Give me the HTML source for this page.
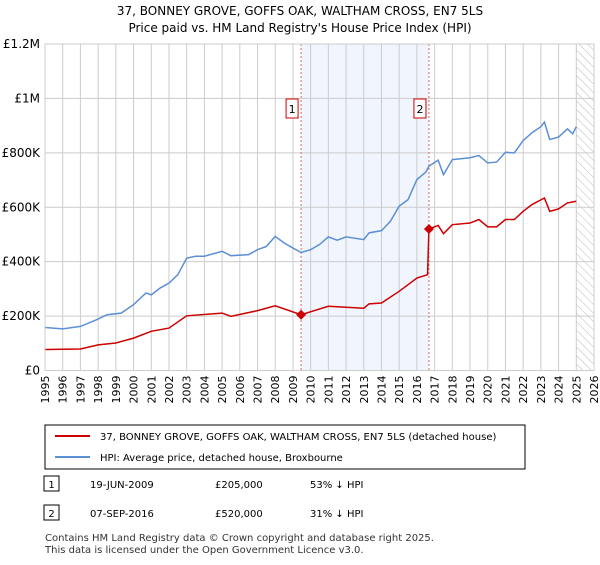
<!DOCTYPE html><html><head><meta charset="utf-8"><style>
body{margin:0;width:600px;height:560px;background:#fff;font-family:"Liberation Sans","DejaVu Sans",sans-serif;overflow:hidden}
svg text{font-family:"DejaVu Sans","Liberation Sans",sans-serif}
</style></head><body>
<svg id="c" width="600" height="560">
<text x="300" y="15" text-anchor="middle" font-size="12">37, BONNEY GROVE, GOFFS OAK, WALTHAM CROSS, EN7 5LS</text>
<text x="300" y="32" text-anchor="middle" font-size="12">Price paid vs. HM Land Registry's House Price Index (HPI)</text>
<g id="plot"></g>
<rect x="45" y="425" width="480" height="44" fill="#fff" stroke="#000" stroke-width="1"/>
<line x1="55" y1="436" x2="90" y2="436" stroke="#cc0000" stroke-width="2"/>
<text x="100" y="440" font-size="10">37, BONNEY GROVE, GOFFS OAK, WALTHAM CROSS, EN7 5LS (detached house)</text>
<line x1="55" y1="457" x2="90" y2="457" stroke="#5b8fd6" stroke-width="2"/>
<text x="100" y="461" font-size="10">HPI: Average price, detached house, Broxbourne</text>
<rect x="44" y="476" width="15" height="15" fill="#fff" stroke="#000"/>
<text x="51.5" y="488" font-size="10" text-anchor="middle">1</text>
<text x="90" y="488" font-size="10">19-JUN-2009</text>
<text x="215" y="488" font-size="10">£205,000</text>
<text x="310" y="488" font-size="10">53% ↓ HPI</text>
<rect x="44" y="505" width="15" height="15" fill="#fff" stroke="#000"/>
<text x="51.5" y="517" font-size="10" text-anchor="middle">2</text>
<text x="90" y="517" font-size="10">07-SEP-2016</text>
<text x="215" y="517" font-size="10">£520,000</text>
<text x="310" y="517" font-size="10">31% ↓ HPI</text>
<text x="45" y="541" font-size="10" fill="#333">Contains HM Land Registry data © Crown copyright and database right 2025.</text>
<text x="45" y="553" font-size="10" fill="#333">This data is licensed under the Open Government Licence v3.0.</text>
</svg>
<script>
const yTicks=[0,200000,400000,600000,800000,1000000,1200000];
const yTickLabels=["£0","£200K","£400K","£600K","£800K","£1M","£1.2M"];
const years=[1995,1996,1997,1998,1999,2000,2001,2002,2003,2004,2005,2006,2007,2008,2009,2010,2011,2012,2013,2014,2015,2016,2017,2018,2019,2020,2021,2022,2023,2024,2025,2026];
const hpiT=[1995,1996,1997,1998,1998.5,1999.3,2000,2000.7,2001,2001.5,2002,2002.5,2003,2003.5,2004,2005,2005.5,2006.5,2007,2007.5,2008,2008.5,2009,2009.46,2010,2010.5,2011,2011.5,2012,2013,2013.3,2014,2014.5,2015,2015.5,2016,2016.5,2016.68,2017.2,2017.5,2018,2019,2019.5,2020,2020.5,2021,2021.5,2022,2022.5,2023,2023.2,2023.5,2024,2024.5,2024.8,2025];
const hpiV=[158,153,162,189,205,211,242,285,278,303,321,352,413,420,420,438,422,426,444,456,493,469,450,434,444,463,491,479,491,481,506,514,548,604,628,702,729,751,773,720,775,782,790,763,766,802,800,845,874,896,913,849,858,888,870,896];
const priceT=[1995,1997,1998,1999,2000,2001,2002,2003,2005,2005.5,2007,2008,2009.46,2011,2013,2013.3,2014,2015,2016,2016.6,2016.68,2017.2,2017.5,2018,2019,2019.5,2020,2020.5,2021,2021.5,2022,2022.5,2023.2,2023.5,2024,2024.5,2025];
const priceV=[77,79,94,101,119,144,156,201,211,199,220,238,205,236,229,245,248,291,340,352,520,533,503,536,542,555,528,528,555,555,585,610,634,585,594,616,622];
const saleT=[2009.46,2016.68];
const saleV=[205,520];
const saleLabels=["1","2"];
const X0=45,X1=594,Y0=370.5,Y1=44;
const xs=t=>X0+(t-1995)/31*(X1-X0);
const ys=v=>Y0-v/1200000*(Y0-Y1);
const NS="http://www.w3.org/2000/svg";
const g=document.getElementById('plot');
function mk(tag,a){const e=document.createElementNS(NS,tag);for(const k in a)e.setAttribute(k,a[k]);g.appendChild(e);return e;}
let e=mk('rect',{x:xs(saleT[0]),y:Y1,width:xs(saleT[1])-xs(saleT[0]),height:Y0-Y1,fill:'#eef3fd',opacity:0.8});


const defs=document.createElementNS(NS,'defs');defs.innerHTML='<pattern id="h" width="6" height="6" patternUnits="userSpaceOnUse" patternTransform="rotate(-45)"><line x1="0" y1="0" x2="0" y2="6" stroke="#bbb" stroke-width="1"/></pattern>';g.appendChild(defs);
e=mk('rect',{x:xs(2025),y:Y1,width:X1-xs(2025),height:Y0-Y1,fill:'url(#h)'});


years.forEach(y=>{const l=mk('line',{x1:xs(y),x2:xs(y),y1:Y1,y2:Y0,stroke:'#ccc','stroke-width':1});


const t=mk('text',{x:0,y:0,'font-size':11,'text-anchor':'end',transform:`translate(${xs(y)+4},${Y0+5}) rotate(-90)`});t.textContent=y;

});
yTicks.forEach((v,i)=>{const l=mk('line',{x1:X0,x2:X1,y1:ys(v),y2:ys(v),stroke:'#ccc','stroke-width':1});


const t=mk('text',{x:X0-5,y:ys(v)+4,'font-size':12,'text-anchor':'end'});t.textContent=yTickLabels[i];

});
saleT.forEach((t,i)=>{const l=mk('line',{x1:xs(t),x2:xs(t),y1:Y1,y2:Y0,stroke:'#e06666','stroke-dasharray':'2,2','stroke-width':1});


const b=mk('rect',{x:xs(t)-15,y:99,width:12,height:19,fill:'#fff',stroke:'#cc0000'});


const tx=mk('text',{x:xs(t)-9,y:113,'font-size':11,'text-anchor':'middle'});tx.textContent=saleLabels[i];

});
e=mk('polyline',{points:hpiT.map((t,i)=>xs(t)+','+ys(hpiV[i]*1000)).join(' '),fill:'none',stroke:'#5b8fd6','stroke-width':1.5});


e=mk('polyline',{points:priceT.map((t,i)=>xs(t)+','+ys(priceV[i]*1000)).join(' '),fill:'none',stroke:'#cc0000','stroke-width':1.5});


saleT.forEach((t,i)=>{const x=xs(t),y=ys(saleV[i]*1000);const p=mk('polygon',{points:`${x},${y-5} ${x+5},${y} ${x},${y+5} ${x-5},${y}`,fill:'#cc0000'});

});
e=mk('rect',{x:X0,y:Y1,width:X1-X0,height:Y0-Y1,fill:'none',stroke:'#ccc'});


</script>
</body></html>
